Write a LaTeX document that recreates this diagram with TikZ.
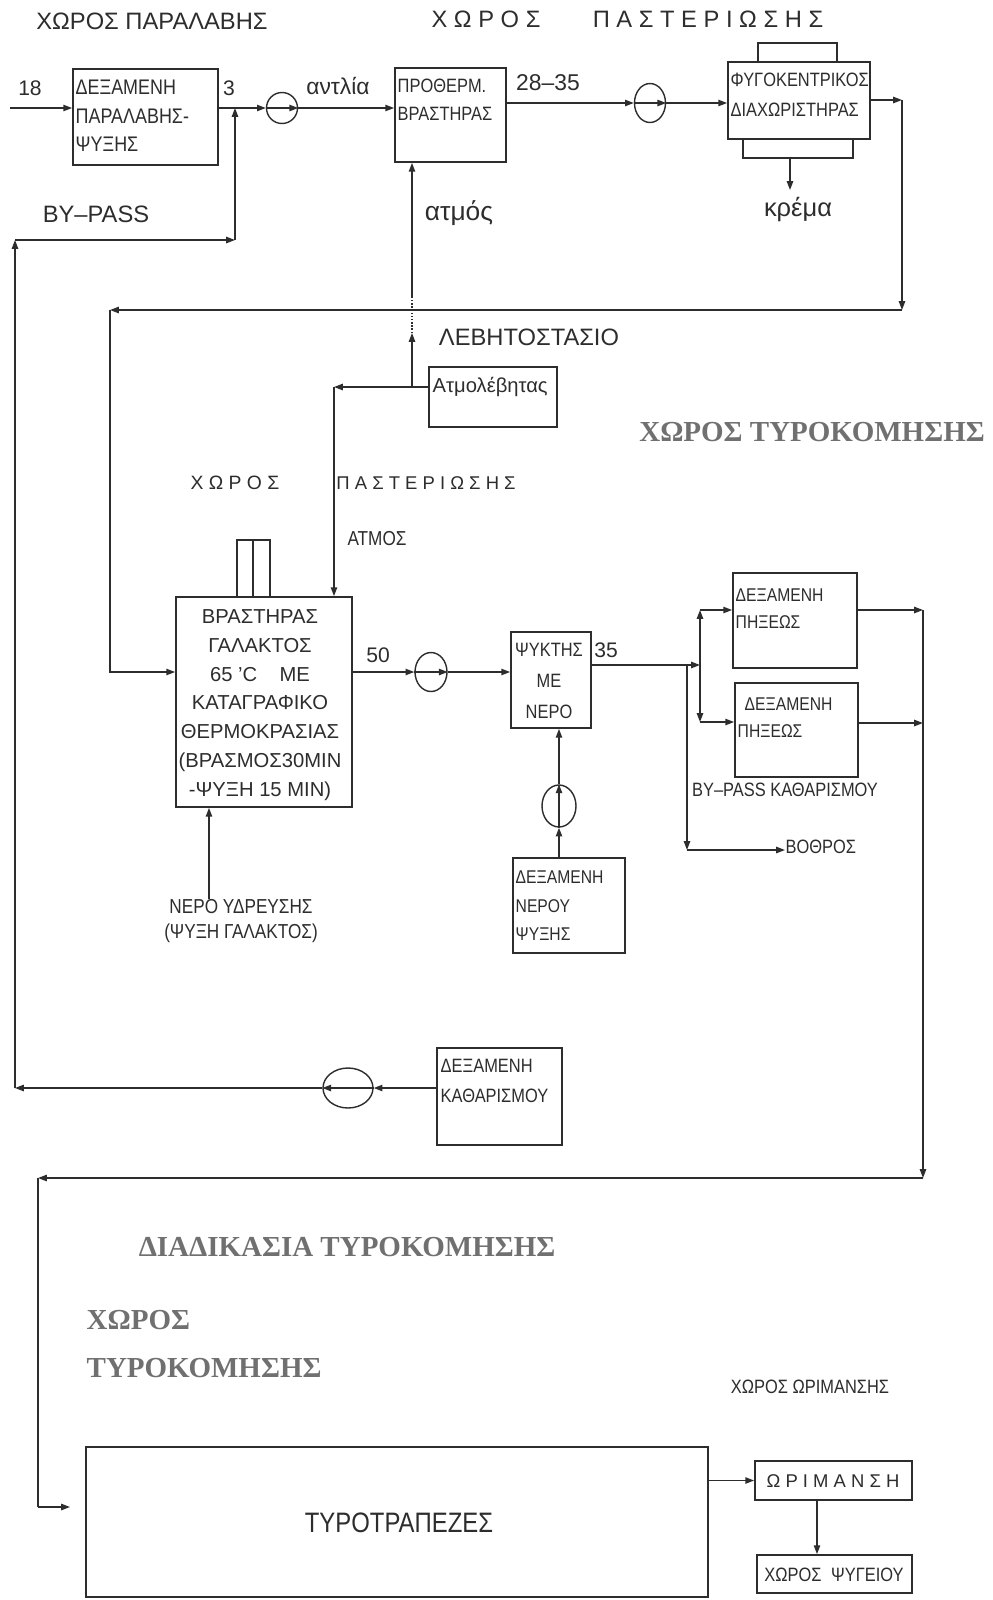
\documentclass[tikz,border=0pt]{standalone}
\usepackage{fontspec}
\setmainfont{Liberation Sans}
\newfontfamily\narrowfont[FakeStretch=0.85]{Liberation Sans}
\newfontfamily\titlefont{Liberation Serif}
\usepackage{xcolor}
\usetikzlibrary{positioning, shapes.geometric, arrows.meta, fit}
\definecolor{grisfonce}{RGB}{45, 45, 45}
\definecolor{grisgras}{RGB}{112, 112, 112}

\begin{document}
\begin{tikzpicture}[x=0.02cm, y=-0.02cm, line width=0.8pt, color=grisfonce,
    boite/.style={draw, line width=1pt, inner sep=0pt, fit={#1}},
    pompe/.style 2 args={draw, ellipse, inner sep=0pt, minimum width=#1, minimum height=#2},
    fl/.style={-{Triangle[length=5pt, width=3.6pt]}},
    etiq/.style 2 args={inner sep=0pt, font=\fontsize{#1}{#2}\selectfont},
    etroit/.style 2 args={inner sep=0pt, font=\narrowfont\fontsize{#1}{#2}\selectfont},
    titre/.style={inner sep=0pt, text=grisgras, font=\titlefont\bfseries\fontsize{16.5}{20}\selectfont}]
    \path[use as bounding box, fill=white] (0,0) rectangle (993,1600);
    % χώρος παραλαβής
    \node[etiq={13.5}{16}] (tparal) at (152,21) {ΧΩΡΟΣ ΠΑΡΑΛΑΒΗΣ};
    \node[etiq={13.5}{16}] (tpast1) at (486,19) {Χ Ω Ρ Ο Σ};
    \node[etiq={13.5}{16}] (tpast2) at (708,19) {Π Α Σ Τ Ε Ρ Ι Ω Σ Η Σ};
    \node[boite={(73,69) (218,165)}] (dexpar) {};
    \node[etroit={12}{16.2}, align=left, anchor=west] at (75,116) {ΔΕΞΑΜΕΝΗ\\ΠΑΡΑΛΑΒΗΣ-\\ΨΥΞΗΣ};
    \coordinate (in18) at (10,108);
    \coordinate (j1) at (235,108);
    \node[etiq={12}{14}] (t18) at (30,88) {18};
    \node[etiq={12}{14}] (t3) at (229,88) {3};
    \node[pompe={0.62cm}{0.62cm}] (p1) at (282,108) {};
    \node[etiq={13}{15}] (tantl) at (338,86) {αντλία};
    \node[etiq={13.5}{16}] (tbyp) at (96,214) {BY–PASS};
    % προθερμαντήρας, διαχωριστήρας
    \node[boite={(395,68) (506,162)}] (proth) {};
    \node[etroit={11}{16}, align=left, anchor=west] at (397,100) {ΠΡΟΘΕΡΜ.\\ΒΡΑΣΤΗΡΑΣ};
    \node[etiq={13}{15}] (t2835) at (548,83) {28–35};
    \node[etiq={15}{17}] (tatm) at (459,213) {ατμός};
    \node[pompe={0.62cm}{0.78cm}] (p2) at (650,103) {};
    \node[boite={(728,62) (870,139)}] (fygo) {};
    \node[boite={(758,43) (837,62)}] (fygoh) {};
    \node[boite={(743,139) (853,158)}] (fygob) {};
    \node[etroit={11}{17}, align=left, anchor=west] at (730,95) {ΦΥΓΟΚΕΝΤΡΙΚΟΣ\\ΔΙΑΧΩΡΙΣΤΗΡΑΣ};
    \node[etiq={14.5}{16}] (krema) at (798,210) {κρέμα};
    \coordinate (kremafl) at (790,190);
    % γραμμή γάλακτος πάνω
    \draw[fl] (in18) -- (dexpar.west |- in18);
    \draw (dexpar.east |- j1) -- (j1);
    \draw[fl] (j1) -- (p1.west);
    \draw[fl] (p1.west) -- (p1.east);
    \draw[fl] (p1.east) -- (proth.west |- p1);
    \draw[fl] (proth.east |- p2) -- (p2.west);
    \draw[fl] (p2.west) -- (p2.east);
    \draw[fl] (p2.east) -- (fygo.west |- p2);
    \draw[fl] (fygob.south -| kremafl) -- (kremafl);
    % λεβητοστάσιο
    \node[boite={(429,367) (557,427)}] (atmol) {};
    \node[etiq={11.5}{14}, anchor=west] at (432,387) {Ατμολέβητας};
    \node[etiq={13.5}{16}] (tlebh) at (529,337) {ΛΕΒΗΤΟΣΤΑΣΙΟ};
    % τίτλοι μέσης
    \node[titre] (ttyr1) at (812,432) {ΧΩΡΟΣ ΤΥΡΟΚΟΜΗΣΗΣ};
    \node[etiq={11}{13}] (tpast3) at (235,483) {Χ Ω Ρ Ο Σ};
    \node[etiq={10.5}{13}] (tpast4) at (426,483) {Π Α Σ Τ Ε Ρ Ι Ω Σ Η Σ};
    \node[etroit={11.5}{13}] (tatmos) at (377,539) {ΑΤΜΟΣ};
    % βραστήρας γάλακτος
    \node[boite={(176,597) (352,807)}] (vrast) {};
    \draw (237,597) |- (270,540) -- (270,597);
    \draw (253,540) -- (253,597);
    \node[etiq={11.5}{16.4}, align=center] at (260,705) {ΒΡΑΣΤΗΡΑΣ\\ΓΑΛΑΚΤΟΣ\\65 'C\hspace{1.1em}ΜΕ\\ΚΑΤΑΓΡΑΦΙΚΟ\\ΘΕΡΜΟΚΡΑΣΙΑΣ\\(ΒΡΑΣΜΟΣ30MIN\\-ΨΥΞΗ 15 MIN)};
    \node[etiq={12}{14}] (t50) at (378,655) {50};
    \node[pompe={0.64cm}{0.78cm}] (p3) at (431,672) {};
    \node[boite={(511,632) (591,728)}] (psykt) {};
    \node[etroit={11}{17.6}, align=center] at (549,681) {ΨΥΚΤΗΣ\\ΜΕ\\ΝΕΡΟ};
    \node[etiq={12}{14}] (t35) at (606,650) {35};
    \draw[fl] (vrast.east |- p3) -- (p3.west);
    \draw[fl] (p3.west) -- (p3.east);
    \draw[fl] (p3.east) -- (psykt.west |- p3);
    % επιστροφή προς βραστήρα
    \coordinate (cd1) at (902,100);
    \coordinate (cd2) at (902,310);
    \coordinate (cd3) at (110,310);
    \draw[fl] (fygo.east |- cd1) -- (cd1);
    \draw[fl] (cd1) -- (cd2);
    \draw[fl] (cd2) -- (cd3);
    \draw[fl] (cd3) |- (vrast.west |- p3);
    % ατμός
    \coordinate (jatm) at (412,387);
    \coordinate (atmtip) at (412,333);
    \coordinate (atmdot) at (412,297);
    \coordinate (atmg) at (334,387);
    \draw (atmol.west |- jatm) -- (jatm);
    \draw[fl] (jatm) -- (atmtip);
    \draw[densely dotted] (atmtip) -- (atmdot);
    \draw[fl] (atmdot) -- (proth.south -| jatm);
    \draw[fl] (jatm) -- (atmg);
    \draw[fl] (atmg) -- (vrast.north -| atmg);
    % νερό ύδρευσης
    \node[etroit={11.5}{13.7}, align=center] (nero) at (241,921) {ΝΕΡΟ ΥΔΡΕΥΣΗΣ\\(ΨΥΞΗ ΓΑΛΑΚΤΟΣ)};
    \coordinate (nerofl) at (209,899);
    \draw[fl] (nerofl) -- (vrast.south -| nerofl);
    % νερό ψύξης
    \node[boite={(513,858) (625,953)}] (dexner) {};
    \node[etroit={10.5}{16.2}, align=left, anchor=west] at (515,906) {ΔΕΞΑΜΕΝΗ\\ΝΕΡΟΥ\\ΨΥΞΗΣ};
    \node[pompe={0.68cm}{0.84cm}] (p4) at (559,806) {};
    \draw[fl] (dexner.north -| p4) -- (p4.south);
    \draw[fl] (p4.south) -- (p4.north);
    \draw[fl] (p4.north) -- (psykt.south -| p4);
    % δεξαμενές πήξεως
    \node[boite={(733,573) (857,668)}] (dexA) {};
    \node[etroit={10.5}{15.4}, align=left, anchor=west] at (735,609) {ΔΕΞΑΜΕΝΗ\\ΠΗΞΕΩΣ};
    \node[boite={(735,683) (858,777)}] (dexB) {};
    \node[etroit={10.5}{15.4}, align=left, anchor=west] at (737,718) {\hspace{4pt}ΔΕΞΑΜΕΝΗ\\ΠΗΞΕΩΣ};
    \node[etroit={11}{13}] (tbypk) at (785,790) {BY–PASS ΚΑΘΑΡΙΣΜΟΥ};
    \node[etroit={11}{13}, anchor=west] (vothros) at (785,847) {ΒΟΘΡΟΣ};
    \coordinate (jps) at (700,665);
    \coordinate (jby) at (687,665);
    \coordinate (jA) at (700,610);
    \coordinate (jB) at (700,722);
    \coordinate (jbo) at (687,850);
    \draw[fl] (psykt.east |- jps) -- (jps);
    \draw[fl] (jps) -- (jA);
    \draw[fl] (jps) -- (jB);
    \draw[fl] (jA) -- (dexA.west |- jA);
    \draw[fl] (jB) -- (dexB.west |- jB);
    \draw[fl] (jby) -- (jbo);
    \draw[fl] (jbo) -- (vothros.west |- jbo);
    % προς τυροκομείο
    \coordinate (sA) at (923,610);
    \coordinate (sB) at (923,723);
    \coordinate (sbas) at (923,1178);
    \coordinate (gbas) at (38,1178);
    \coordinate (gtyro) at (38,1507);
    \coordinate (tyrofl) at (70,1507);
    \draw[fl] (dexA.east |- sA) -- (sA);
    \draw[fl] (dexB.east |- sB) -- (sB);
    \draw[fl] (sA) -- (sbas);
    \draw[fl] (sbas) -- (gbas);
    \draw (gbas) -- (gtyro);
    \draw[fl] (gtyro) -- (tyrofl);
    % καθαρισμός
    \node[boite={(437,1048) (562,1145)}] (dexkath) {};
    \node[etroit={11}{17}, align=left, anchor=west] at (440,1081) {ΔΕΞΑΜΕΝΗ\\ΚΑΘΑΡΙΣΜΟΥ};
    \node[pompe={1.0cm}{0.8cm}] (p5) at (348,1088) {};
    \coordinate (cg1) at (15,1088);
    \coordinate (cg2) at (15,240);
    \coordinate (cg3) at (235,240);
    \draw[fl] (dexkath.west |- p5) -- (p5.east);
    \draw[fl] (p5.east) -- (p5.west);
    \draw[fl] (p5.west) -- (cg1);
    \draw[fl] (cg1) -- (cg2);
    \draw[fl] (cg2) -- (cg3);
    \draw[fl] (cg3) -- (j1);
    % τυροκόμηση
    \node[titre] (tdiad) at (347,1247) {ΔΙΑΔΙΚΑΣΙΑ ΤΥΡΟΚΟΜΗΣΗΣ};
    \node[titre, anchor=west] (tchor) at (86,1320) {ΧΩΡΟΣ};
    \node[titre, anchor=west] (ttyr2) at (86,1368) {ΤΥΡΟΚΟΜΗΣΗΣ};
    \node[etroit={11}{13}] (torim) at (810,1387) {ΧΩΡΟΣ ΩΡΙΜΑΝΣΗΣ};
    \node[boite={(86,1447) (708,1597)}] (tyro) {};
    \node[etroit={16}{18}] at (399,1523) {ΤΥΡΟΤΡΑΠΕΖΕΣ};
    \node[boite={(755,1461) (912,1500)}] (orim) {};
    \node[etiq={10.5}{12}] at (833,1481) {Ω Ρ Ι Μ Α Ν Σ Η};
    \node[boite={(757,1555) (912,1593)}] (psyg) {};
    \node[etroit={11}{13}] at (834,1575) {ΧΩΡΟΣ\enspace ΨΥΓΕΙΟΥ};
    \coordinate (orimc) at (817,1500);
    \draw[fl] (tyro.east |- orim) -- (orim.west);
    \draw[fl] (orimc) -- (psyg.north -| orimc);
  \end{tikzpicture}
\end{document}
